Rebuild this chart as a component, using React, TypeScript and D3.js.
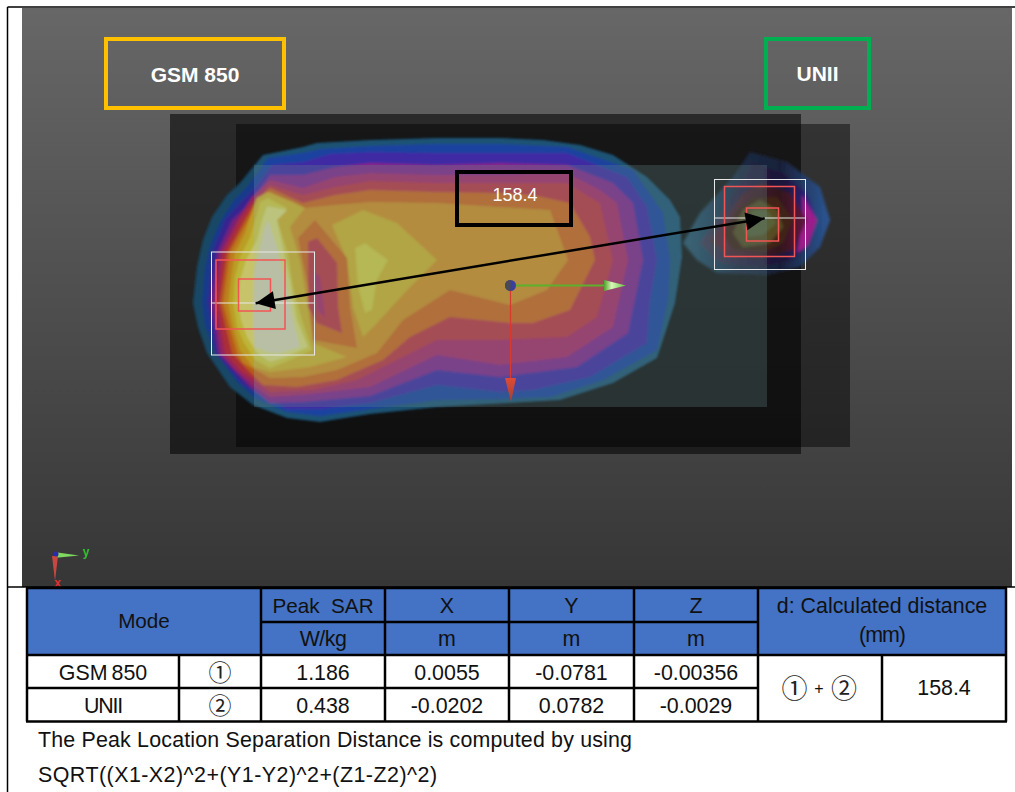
import React from "react";
import * as d3 from "d3";

type Pt = [number, number];

// Peak table (metres, W/kg)
const modes = ["GSM 850", "UNII"];
const marks = ["①", "②"];
const peakSar = ["1.186", "0.438"];
const peakX = [0.0055, -0.0202];
const peakY = [-0.0781, 0.0782];
const peakXLabels = ["0.0055", "-0.0202"];
const peakYLabels = ["-0.0781", "0.0782"];
const peakZLabels = ["-0.00356", "-0.0029"];
const distance = "158.4";

// Scan contour rings, in scan steps from the probe origin [along y, along x]
const mainRings: Pt[][] = [
  [[-317,18],[-313,-18],[-307,-45],[-298,-68],[-283,-90],[-270,-102],[-247,-130],[-207,-138],[-193,-142],[-140,-145],[-73,-147],[-10,-147],[33,-145],[70,-140],[103,-130],[137,-108],[160,-85],[170,-68],[172,-28],[165,18],[153,55],[147,73],[103,98],[50,115],[0,118],[-73,122],[-140,129],[-190,137],[-223,133],[-257,120],[-280,102],[-303,68],[-312,42]],
  [[-308,18],[-305,-18],[-299,-42],[-290,-63],[-276,-85],[-262,-99],[-242,-127],[-207,-132],[-188,-136],[-140,-139],[-73,-141],[-10,-141],[57,-138],[123,-115],[153,-72],[160,-25],[158,15],[147,65],[93,95],[40,112],[-10,114],[-73,115],[-140,124],[-190,131],[-223,127],[-254,114],[-274,96],[-296,65],[-305,40]],
  [[-302,18],[-298,-32],[-285,-65],[-270,-82],[-255,-97],[-238,-120],[-207,-123],[-180,-131],[-140,-133],[-73,-132],[-10,-132],[57,-132],[117,-108],[137,-78],[147,-25],[140,15],[137,58],[80,92],[23,105],[-10,107],[-73,100],[-140,118],[-190,124],[-223,124],[-267,100],[-295,68]],
  [[-299,18],[-293,-32],[-278,-65],[-265,-77],[-252,-93],[-240,-110],[-207,-110],[-175,-118],[-140,-122],[-73,-120],[-10,-122],[57,-120],[103,-102],[123,-82],[133,-25],[118,48],[67,82],[-10,92],[-73,85],[-140,111],[-207,117],[-240,118],[-260,102],[-292,68]],
  [[-296,18],[-290,-32],[-273,-65],[-258,-88],[-240,-105],[-207,-97],[-175,-108],[-140,-112],[-73,-110],[-10,-110],[57,-112],[90,-95],[107,-82],[118,-25],[103,42],[57,72],[-10,80],[-73,70],[-140,102],[-207,110],[-240,112],[-255,102],[-275,85],[-289,68]],
  [[-293,18],[-287,-32],[-270,-65],[-256,-85],[-240,-100],[-207,-90],[-175,-98],[-140,-104],[-73,-102],[-10,-102],[57,-102],[90,-82],[103,-25],[87,32],[57,52],[-10,55],[-73,55],[-113,75],[-153,95],[-197,105],[-240,107],[-247,102],[-270,85],[-285,68]],
  [[-290,18],[-283,-32],[-265,-65],[-254,-84],[-240,-97],[-207,-82],[-175,-90],[-140,-95],[-73,-93],[-10,-92],[23,-90],[60,-82],[80,-48],[85,-25],[60,25],[23,38],[0,38],[-60,32],[-100,52],[-127,75],[-173,95],[-213,102],[-247,100],[-265,82],[-278,68]],
  [[-287,18],[-280,-32],[-262,-65],[-250,-84],[-240,-93],[-207,-77],[-175,-80],[-140,-83],[-73,-82],[-10,-78],[40,-75],[58,-25],[37,5],[0,20],[-60,5],[-107,35],[-133,68],[-173,85],[-207,92],[-240,93],[-267,78],[-273,68]],
  [[-282,18],[-279,-8],[-275,-32],[-265,-52],[-260,-68],[-253,-87],[-242,-93],[-217,-83],[-205,-77],[-220,-58],[-210,-25],[-202,22],[-197,58],[-163,72],[-200,82],[-240,87],[-257,82],[-270,65],[-277,42]],
  [[-277,18],[-275,-8],[-270,-28],[-260,-48],[-254,-68],[-250,-83],[-242,-87],[-223,-77],[-233,-65],[-222,-32],[-217,2],[-208,35],[-198,65],[-227,78],[-240,83],[-255,75],[-266,58],[-273,42]],
  [[-272,18],[-270,-5],[-264,-25],[-253,-45],[-248,-65],[-243,-79],[-223,-75],[-233,-65],[-226,-32],[-220,-5],[-213,35],[-202,62],[-227,73],[-240,77],[-253,68],[-263,52],[-269,35]],
  [[-257,18],[-256,-12],[-250,-38],[-245,-58],[-242,-65],[-233,-38],[-225,-5],[-217,35],[-210,62],[-230,68],[-240,68],[-255,62],[-257,42]],
];
const mainColors = ["#1c5274","#1a42a0","#3f2aa4","#85278c","#ac2a68","#c23540","#d2661f","#d69024","#d5b329","#d8ce40","#e2df7a","#ddd9b3"];

const lobeRings: Pt[][] = [
  [[-178,-60],[-147,-75],[-113,-62],[-73,-25],[-100,2],[-133,38],[-147,52],[-157,22],[-163,-25]],
  [[-155,-37],[-145,-42],[-122,-25],[-133,-5],[-138,25],[-145,28],[-152,2]],
  [[-195,-65],[-163,-27],[-160,22],[-153,63],[-197,55],[-202,2],[-212,-47]],
  [[-193,-47],[-173,-22],[-172,22],[-168,48],[-193,38],[-202,22],[-202,-43]],
  [[-195,-13],[-190,-8],[-185,32],[-193,25]],
];
const lobeColors = ["#d5b329","#d8ce40","#d2661f","#c23540","#ac2a68"];

const sideRings: Pt[][] = [
  [[173,-42],[190,-72],[223,-108],[240,-133],[277,-123],[310,-98],[320,-65],[310,-38],[290,-18],[257,-10],[207,-12],[187,-25]],
  [[190,-42],[207,-65],[230,-102],[243,-122],[273,-112],[297,-92],[307,-65],[300,-42],[283,-25],[253,-18],[210,-22]],
  [[292,-90],[307,-65],[298,-40],[287,-32],[293,-65]],
  [[200,-45],[217,-68],[233,-92],[253,-102],[280,-92],[297,-65],[283,-35],[253,-27],[220,-28]],
  [[213,-52],[227,-75],[243,-88],[267,-88],[283,-65],[273,-42],[253,-33],[223,-35]],
  [[223,-52],[233,-75],[250,-85],[267,-75],[273,-58],[260,-42],[233,-38]],
  [[233,-58],[243,-75],[257,-75],[267,-62],[253,-50],[238,-48]],
];
const sideFills = ["url(#s0)", "url(#s1)", "#a81e8c", "url(#s3)", "#3f2418", "#564c20", "#586039"];
const sideAlpha = [0.85, 0.9, 0.9, 0.95, 1, 1, 1];

// Table columns
const tableEdges = [27, 179, 261, 385, 509, 634, 758, 882, 1006];
const tableRows = [588, 622, 655, 688, 721.5];

const stepX = d3.scaleLinear().domain([0, 100]).range([510, 610]);
const stepY = d3.scaleLinear().domain([0, 100]).range([285, 385]);
const mmX = d3.scaleLinear().domain([0, 0.1]).range([510, 510 + 325.7]);
const mmY = d3.scaleLinear().domain([0, 0.1]).range([285, 285 + 330]);
const ring = d3.line<Pt>().x((d) => stepX(d[0])).y((d) => stepY(d[1])).curve(d3.curveLinearClosed);

const FONT = "'Liberation Sans', Arial, sans-serif";
const CJK = "'Noto Sans CJK JP', sans-serif";
const BLUE = "#4472c4";

export default function App() {
  const [c0, c1, c2, c3, c4, c5, c6, c7, c8] = tableEdges;
  const [r0, r1, r2, r3, r4] = tableRows;
  const p1x = mmX(peakY[0]);
  const p1y = mmY(peakX[0]);
  const p2x = mmX(peakY[1]);
  const p2y = mmY(peakX[1]);
  const ang = Math.atan2(p2y - p1y, p2x - p1x);
  const head = (x: number, y: number, a: number) => {
    const L = 19, W = 9;
    const bx = x - Math.cos(a) * L, by = y - Math.sin(a) * L;
    return `${x},${y} ${bx - Math.sin(a) * W},${by + Math.cos(a) * W} ${bx + Math.sin(a) * W},${by - Math.cos(a) * W}`;
  };
  const txt = (x: number, y: number, s: string, extra: any = {}) => (
    <text x={x} y={y} textAnchor="middle" fontFamily={FONT} fontSize={21.4} fill="#111" {...extra}>{s}</text>
  );
  const vLines = [c0, c2, c3, c4, c5, c6, c8];
  return (
    <svg width={1015} height={792} style={{ position: "absolute", left: 0, top: 0, background: "#fff" }}>
      <defs>
        <linearGradient id="bg" x1="0" y1="0" x2="0" y2="1">
          <stop offset="0" stopColor="#676767" />
          <stop offset="1" stopColor="#363636" />
        </linearGradient>
        <linearGradient id="gc" x1="0" y1="0" x2="1" y2="0">
          <stop offset="0" stopColor="#4fa02a" />
          <stop offset="0.35" stopColor="#d8f8b8" />
          <stop offset="1" stopColor="#5fc040" />
        </linearGradient>
        <linearGradient id="rc" x1="0" y1="0" x2="0" y2="1">
          <stop offset="0" stopColor="#e04a38" />
          <stop offset="1" stopColor="#a04030" />
        </linearGradient>
        <linearGradient id="s0" gradientUnits="userSpaceOnUse" x1="690" y1="0" x2="830" y2="0">
          <stop offset="0" stopColor="#2a5e7c" />
          <stop offset="0.35" stopColor="#1c2c4c" />
          <stop offset="0.65" stopColor="#1a2240" />
          <stop offset="1" stopColor="#2a5ea8" />
        </linearGradient>
        <linearGradient id="s1" gradientUnits="userSpaceOnUse" x1="700" y1="0" x2="820" y2="0">
          <stop offset="0" stopColor="#463a52" />
          <stop offset="0.45" stopColor="#231a3e" />
          <stop offset="0.7" stopColor="#1c1638" />
          <stop offset="1" stopColor="#3a22a0" />
        </linearGradient>
        <linearGradient id="s3" gradientUnits="userSpaceOnUse" x1="710" y1="0" x2="810" y2="0">
          <stop offset="0" stopColor="#5a2a38" />
          <stop offset="0.7" stopColor="#33141c" />
          <stop offset="1" stopColor="#6a1440" />
        </linearGradient>
        <filter id="soft" x="-5%" y="-5%" width="110%" height="110%"><feGaussianBlur stdDeviation="0.8" /></filter>
        <filter id="softer" x="-15%" y="-15%" width="130%" height="130%"><feGaussianBlur stdDeviation="1.8" /></filter>
        <clipPath id="mapLeft"><path d={ring(mainRings[0]) as string} /></clipPath>
      </defs>
      <rect x={22} y={8} width={990} height={579} fill="url(#bg)" />
      <rect x={170} y={114} width={631} height={340} fill="#000" opacity={0.55} />
      <rect x={236} y={124} width={614} height={323} fill="#000" opacity={0.45} />

      <g filter="url(#softer)">
        {sideRings.map((r, i) => <path key={"s" + i} d={ring(r) as string} fill={sideFills[i]} opacity={sideAlpha[i]} />)}
      </g>
      <g filter="url(#soft)">
        {mainRings.map((r, i) => <path key={"m" + i} d={ring(r) as string} fill={mainColors[i]} />)}
        {lobeRings.map((r, i) => <path key={"l" + i} d={ring(r) as string} fill={lobeColors[i]} />)}
      </g>
      <g clipPath="url(#mapLeft)">
        <rect x={170} y={120} width={84} height={320} fill="#000" opacity={0.12} />
      </g>
      <rect x={254} y={165} width={513} height={242} fill="rgb(100,132,132)" opacity={0.3} />

      {/* peak cubes */}
      <rect x={211.5} y={252} width={103} height={103} fill="none" stroke="#e8e8e8" strokeWidth={1} />
      <line x1={211.5} x2={314.5} y1={303} y2={303} stroke="#e8e8e8" strokeWidth={1} />
      <rect x={216} y={260} width={69} height={69} fill="none" stroke="#f25555" strokeWidth={1.5} />
      <rect x={238.5} y={279} width={32} height={32} fill="none" stroke="#f25555" strokeWidth={1.5} />
      <rect x={714.5} y={179.5} width={91} height={90} fill="none" stroke="#e8e8e8" strokeWidth={1} />
      <line x1={714.5} x2={805.5} y1={218} y2={218} stroke="#e8e8e8" strokeWidth={1} />
      <rect x={724.5} y={186.5} width={70} height={70} fill="none" stroke="#f25555" strokeWidth={1.5} />
      <rect x={746.5} y={208} width={32} height={33} fill="none" stroke="#f25555" strokeWidth={1.5} />

      {/* probe axes */}
      <line x1={515} x2={606} y1={285.5} y2={285.5} stroke="#5cb02c" strokeWidth={2} />
      <polygon points="604,280 626,285.5 604,291" fill="url(#gc)" />
      <line x1={510.5} x2={510.5} y1={290} y2={380} stroke="#d83a30" strokeWidth={1.2} />
      <polygon points="505,378 516,378 511,402" fill="url(#rc)" />
      <circle cx={510.5} cy={285.5} r={5.5} fill="#3b3f9c" />
      <path d="M510.5 280 a5.5 5.5 0 0 0 0 11 z" fill="#4a4a52" />

      {/* separation arrow */}
      <line x1={p1x} y1={p1y} x2={p2x} y2={p2y} stroke="#000" strokeWidth={2.5} />
      <polygon points={head(p1x, p1y, ang + Math.PI)} fill="#000" />
      <polygon points={head(p2x, p2y, ang)} fill="#000" />

      {/* annotation boxes */}
      <rect x={457} y={172} width={114} height={53} fill="none" stroke="#000" strokeWidth={4} />
      <text x={515} y={201} textAnchor="middle" fontFamily={FONT} fontSize={18} fill="#fff">{distance}</text>
      <rect x={106} y={39} width={178} height={69} fill="none" stroke="#ffc000" strokeWidth={4} />
      <text x={195} y={82} textAnchor="middle" fontFamily={FONT} fontWeight="bold" fontSize={21} fill="#fff">{modes[0]}</text>
      <rect x={766} y={39} width={103} height={69} fill="none" stroke="#00b050" strokeWidth={4} />
      <text x={817.5} y={81} textAnchor="middle" fontFamily={FONT} fontWeight="bold" fontSize={21} fill="#fff">{modes[1]}</text>

      {/* orientation triad */}
      <polygon points="54,552 54,558 79,555.5" fill="#7fd860" />
      <polygon points="52,556 58,556 55,581" fill="#c84840" />
      <circle cx={56} cy={554} r={2.5} fill="#2a2ab0" />
      <text x={86} y={556} textAnchor="middle" fontFamily={FONT} fontWeight="bold" fontSize={12} fill="#30c030">y</text>
      <text x={57.5} y={587} textAnchor="middle" fontFamily={FONT} fontWeight="bold" fontSize={12} fill="#e03030">x</text>

      {/* frame */}
      <line x1={7.5} x2={1015} y1={7} y2={7} stroke="#000" strokeWidth={1.5} />
      <line x1={7.5} x2={7.5} y1={7} y2={792} stroke="#000" strokeWidth={1.5} />
      <line x1={7.5} x2={1015} y1={587} y2={587} stroke="#000" strokeWidth={1.5} />

      {/* table */}
      <rect x={c0} y={r0} width={c8 - c0} height={r2 - r0} fill={BLUE} />
      {[r0, r2, r4].map((y, i) => <line key={"h" + i} x1={c0 - 1} x2={c8 + 1} y1={y} y2={y} stroke="#000" strokeWidth={2.5} />)}
      <line x1={c0} x2={c6} y1={r3} y2={r3} stroke="#000" strokeWidth={2.5} />
      <line x1={c2} x2={c6} y1={r1} y2={r1} stroke="#000" strokeWidth={2.5} />
      {vLines.map((x, i) => <line key={"v" + i} x1={x} x2={x} y1={r0} y2={r4} stroke="#000" strokeWidth={2.5} />)}
      <line x1={c1} x2={c1} y1={r2} y2={r4} stroke="#000" strokeWidth={2.5} />
      <line x1={c7} x2={c7} y1={r2} y2={r4} stroke="#000" strokeWidth={2.5} />

      {txt((c0 + c2) / 2, 628, "Mode", { fontSize: 20.7 })}
      {txt((c2 + c3) / 2, 612.7, "Peak  SAR", { style: { whiteSpace: "pre" }, fontSize: 20.7 })}
      {txt((c2 + c3) / 2, 645.7, "W/kg", { letterSpacing: -0.5 })}
      {["X", "Y", "Z"].map((s, i) => txt((tableEdges[3 + i] + tableEdges[4 + i]) / 2, 612.7, s, { key: s }))}
      {["m", "m", "m"].map((s, i) => txt((tableEdges[3 + i] + tableEdges[4 + i]) / 2, 645.7, s, { key: "u" + i }))}
      {txt((c6 + c8) / 2, 612.7, "d: Calculated distance")}
      {txt((c6 + c8) / 2, 642, "(mm)", { letterSpacing: -1 })}
      {modes.map((m, i) => {
        const y = i === 0 ? 680 : 713;
        return (
          <g key={m}>
            {txt((c0 + c1) / 2, y, m, i === 0 ? { wordSpacing: -2 } : { letterSpacing: -1.2 })}
            <text x={(c1 + c2) / 2} y={y + 1} textAnchor="middle" fontFamily={CJK} fontSize={23} fill="#222">{marks[i]}</text>
            {txt((c2 + c3) / 2, y, peakSar[i])}
            {txt((c3 + c4) / 2, y, peakXLabels[i])}
            {txt((c4 + c5) / 2, y, peakYLabels[i])}
            {txt((c5 + c6) / 2, y, peakZLabels[i])}
          </g>
        );
      })}
      <text x={794.5} y={698} textAnchor="middle" fontFamily={CJK} fontSize={26} fill="#222">{marks[0]}</text>
      {txt(819, 694, "+", { fontSize: 16 })}
      <text x={844} y={698} textAnchor="middle" fontFamily={CJK} fontSize={26} fill="#222">{marks[1]}</text>
      {txt((c7 + c8) / 2, 695, distance)}

      <text x={38} y={747} fontFamily={FONT} fontSize={21.4} fill="#111" textLength={594} lengthAdjust="spacing">The Peak Location Separation Distance is computed by using</text>
      <text x={38} y={782} fontFamily={FONT} fontSize={21.4} fill="#111" textLength={399} lengthAdjust="spacing">SQRT((X1-X2)^2+(Y1-Y2)^2+(Z1-Z2)^2)</text>
    </svg>
  );
}
